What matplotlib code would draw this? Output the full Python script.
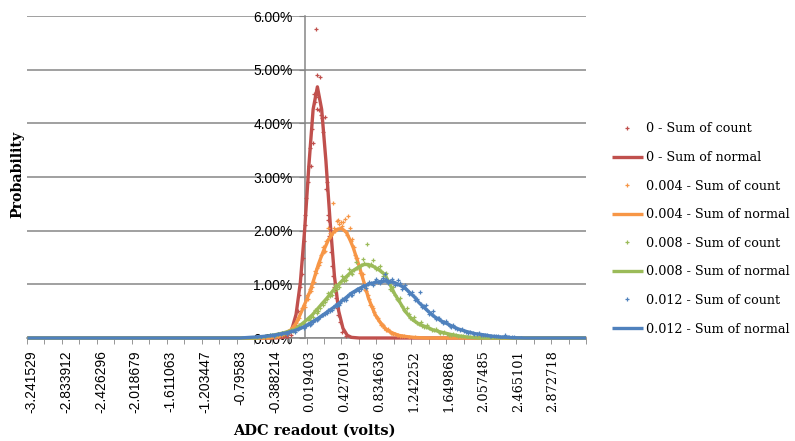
import matplotlib
matplotlib.use("Agg")
import matplotlib.pyplot as plt
from matplotlib.ticker import FixedLocator, FuncFormatter
import numpy as np

plt.rcParams['font.family'] = ['Liberation Sans', 'DejaVu Sans']

# ---------------- data ----------------
x_tick_values = [-3.241529, -2.833912, -2.426296, -2.018679, -1.611063, -1.203447,
                 -0.79583, -0.388214, 0.019403, 0.427019, 0.834636, 1.242252,
                 1.649868, 2.057485, 2.465101, 2.872718]
y_tick_values = [0, 1, 2, 3, 4, 5, 6]
series_names = ["0", "0.004", "0.008", "0.012"]
colors = ["#C0504D", "#F79646", "#9BBB59", "#4F81BD"]

# "Sum of normal" lines (percent)
red_line_x = [-3.29, -0.40, -0.29, -0.24, -0.19, -0.14, -0.09, -0.04, 0.01, 0.06, 0.11,
              0.16, 0.21, 0.26, 0.31, 0.36, 0.41, 0.46, 0.51, 0.60, 3.26]
red_line_y = [0, 0, 0.011, 0.046, 0.16, 0.44, 1.03, 2.00, 3.21, 4.26, 4.68,
              4.26, 3.30, 2.15, 1.15, 0.50, 0.18, 0.05, 0.012, 0, 0]

orange_line_x = [-3.29, -0.45, -0.35, -0.28, -0.191, -0.13, -0.074, -0.02, 0.024, 0.07, 0.121,
                 0.18, 0.24, 0.30, 0.35, 0.395, 0.45, 0.50, 0.531, 0.58, 0.63, 0.67, 0.707,
                 0.75, 0.786, 0.83, 0.864, 0.92, 0.982, 1.06, 1.138, 1.25, 1.40, 3.26]
orange_line_y = [0, 0, 0.03, 0.08, 0.16, 0.30, 0.50, 0.70, 0.87, 1.10, 1.37,
                 1.62, 1.83, 1.97, 2.03, 2.04, 1.97, 1.80, 1.68, 1.44, 1.18, 0.96, 0.75,
                 0.58, 0.44, 0.33, 0.25, 0.16, 0.10, 0.05, 0.03, 0.01, 0, 0]

green_line_x = [-3.29, -0.60, -0.45, -0.30, -0.152, -0.035, 0.05, 0.121, 0.22, 0.317, 0.42,
                0.513, 0.60, 0.66, 0.707, 0.77, 0.84, 0.903, 0.96, 1.02, 1.079, 1.138,
                1.19, 1.235, 1.30, 1.38, 1.469, 1.56, 1.665, 1.76, 1.86, 2.00, 3.26]
green_line_y = [0, 0, 0.04, 0.09, 0.16, 0.31, 0.43, 0.56, 0.74, 0.93, 1.10,
                1.24, 1.33, 1.37, 1.37, 1.33, 1.26, 1.18, 1.00, 0.81, 0.66, 0.50,
                0.40, 0.33, 0.26, 0.21, 0.15, 0.11, 0.07, 0.04, 0.02, 0, 0]

blue_line_x = [-3.29, -0.80, -0.60, -0.45, -0.30, -0.191, -0.10, -0.035, 0.04, 0.121, 0.22,
               0.317, 0.42, 0.513, 0.61, 0.707, 0.80, 0.903, 0.96, 1.02, 1.08, 1.138,
               1.19, 1.25, 1.30, 1.38, 1.469, 1.56, 1.665, 1.76, 1.86, 1.96, 2.055,
               2.15, 2.251, 2.40, 2.55, 3.26]
blue_line_y = [0, 0, 0.02, 0.04, 0.08, 0.12, 0.17, 0.22, 0.29, 0.37, 0.48,
               0.59, 0.72, 0.84, 0.93, 1.00, 1.04, 1.06, 1.05, 1.03, 0.98, 0.93,
               0.85, 0.76, 0.66, 0.54, 0.41, 0.32, 0.24, 0.17, 0.12, 0.08, 0.06,
               0.035, 0.02, 0.005, 0, 0]

# "Sum of count" dots (percent)
red_dot_x = [-0.25, -0.20, -0.15, -0.12, -0.09, -0.06, -0.04, -0.02, 0.01, 0.024, 0.036,
             0.055, 0.071, 0.094, 0.100, 0.109, 0.129, 0.144, 0.153, 0.180, 0.196, 0.211,
             0.23, 0.25, 0.28, 0.31, 0.34, 0.37, 0.40, 0.44,
             -0.10, -0.07, -0.05, -0.03, 0.00, 0.045, 0.08, 0.12, 0.165, 0.22, 0.24,
             0.265, 0.295, 0.325, 0.355]
red_dot_y = [0.02, 0.06, 0.25, 0.50, 0.95, 1.50, 2.10, 2.60, 3.20, 3.54, 3.21,
             3.64, 4.54, 5.75, 4.90, 4.26, 4.24, 4.86, 4.15, 3.83, 4.12, 2.78,
             2.30, 1.90, 1.35, 0.95, 0.55, 0.30, 0.12, 0.04,
             0.80, 1.20, 1.80, 2.30, 2.90, 3.90, 4.40, 4.50, 4.10, 2.90, 2.20,
             1.60, 1.15, 0.75, 0.42]

orange_dot_x = [-0.35, -0.30, -0.26, -0.22, -0.19, -0.16, -0.13, -0.10, -0.07, -0.04, -0.01,
                0.02, 0.05, 0.08, 0.11, 0.14, 0.17, 0.20, 0.23, 0.26, 0.29, 0.31, 0.337,
                0.36, 0.39, 0.415, 0.44, 0.472, 0.493, 0.52, 0.55, 0.58, 0.61, 0.64, 0.67,
                0.70, 0.73, 0.76, 0.79, 0.82, 0.85, 0.88, 0.91, 0.94, 0.97, 1.00, 1.04,
                1.08, 1.12, 1.18, 1.25,
                -0.24, -0.14, -0.05, 0.00, 0.035, 0.065, 0.095, 0.125, 0.155, 0.185, 0.215,
                0.245, 0.275, 0.32, 0.35, 0.40, 0.43, 0.46, 0.505, 0.535, 0.565, 0.595,
                0.625, 0.655, 0.685, 0.715, 0.745, 0.775, 0.805, 0.835, 0.865, 0.895,
                0.925, 0.96, 0.99, 1.02, 1.06, 1.10]
orange_dot_y = [0.02, 0.05, 0.10, 0.12, 0.20, 0.22, 0.33, 0.38, 0.55, 0.58, 0.80,
                0.92, 0.95, 1.25, 1.30, 1.42, 1.70, 1.62, 2.05, 1.95, 2.52, 2.05, 2.18,
                2.12, 2.16, 2.17, 1.98, 2.28, 2.05, 1.85, 1.55, 1.50, 1.22, 1.20, 0.90,
                0.80, 0.62, 0.55, 0.42, 0.38, 0.25, 0.24, 0.15, 0.16, 0.10, 0.08, 0.06,
                0.04, 0.03, 0.02, 0.01,
                0.09, 0.28, 0.62, 0.72, 0.88, 1.05, 1.22, 1.36, 1.55, 1.60, 1.80,
                1.86, 1.92, 2.00, 2.20, 2.08, 2.22, 1.92, 1.80, 1.70, 1.50, 1.32,
                1.22, 1.02, 0.88, 0.72, 0.60, 0.48, 0.38, 0.32, 0.26, 0.19,
                0.15, 0.12, 0.09, 0.07, 0.05, 0.04]

green_dot_x = [-0.50, -0.45, -0.40, -0.35, -0.30, -0.25, -0.20, -0.15, -0.10, -0.05, 0.00,
               0.04, 0.08, 0.12, 0.16, 0.20, 0.24, 0.28, 0.32, 0.36, 0.40, 0.44, 0.48,
               0.52, 0.56, 0.60, 0.64, 0.688, 0.72, 0.76, 0.80, 0.84, 0.88, 0.92, 0.96,
               1.00, 1.04, 1.08, 1.12, 1.16, 1.20, 1.24, 1.28, 1.32, 1.36, 1.40, 1.45,
               1.50, 1.55, 1.60, 1.65, 1.70, 1.76, 1.82, 1.90, 1.98,
               -0.38, -0.28, -0.18, -0.08, 0.02, 0.06, 0.10, 0.14, 0.18, 0.22, 0.26,
               0.30, 0.34, 0.38, 0.42, 0.46, 0.50, 0.54, 0.58, 0.62, 0.66, 0.70, 0.74,
               0.78, 0.82, 0.86, 0.90, 0.94, 0.98, 1.02, 1.06, 1.10, 1.14, 1.18, 1.22,
               1.26, 1.30, 1.34, 1.38, 1.42, 1.48, 1.53, 1.58, 1.63, 1.68, 1.73, 1.79,
               1.86, 1.94]
green_dot_y = [0.02, 0.05, 0.04, 0.07, 0.10, 0.09, 0.15, 0.14, 0.24, 0.27, 0.36,
               0.40, 0.52, 0.50, 0.65, 0.68, 0.83, 0.80, 0.98, 0.95, 1.15, 1.08, 1.28,
               1.20, 1.42, 1.30, 1.48, 1.75, 1.35, 1.45, 1.28, 1.35, 1.15, 1.22, 0.92,
               0.95, 0.72, 0.75, 0.52, 0.55, 0.38, 0.40, 0.28, 0.30, 0.20, 0.24, 0.15,
               0.16, 0.10, 0.11, 0.06, 0.07, 0.04, 0.03, 0.02, 0.01,
               0.06, 0.08, 0.13, 0.21, 0.33, 0.40, 0.47, 0.55, 0.62, 0.72, 0.78,
               0.88, 0.92, 1.02, 1.06, 1.15, 1.22, 1.26, 1.30, 1.36, 1.40, 1.36, 1.38,
               1.32, 1.30, 1.24, 1.20, 1.05, 0.88, 0.80, 0.70, 0.60, 0.50, 0.44, 0.36,
               0.32, 0.27, 0.23, 0.21, 0.18, 0.14, 0.12, 0.10, 0.08, 0.06, 0.05, 0.03,
               0.02, 0.01]

blue_dot_x = [-0.60, -0.55, -0.50, -0.45, -0.40, -0.35, -0.30, -0.25, -0.20, -0.15, -0.10,
              -0.05, 0.00, 0.04, 0.08, 0.12, 0.16, 0.20, 0.24, 0.28, 0.32, 0.36, 0.40,
              0.44, 0.48, 0.52, 0.56, 0.60, 0.64, 0.68, 0.72, 0.76, 0.80, 0.84, 0.88,
              0.903, 0.94, 0.98, 1.02, 1.06, 1.10, 1.14, 1.18, 1.22, 1.26, 1.313, 1.34,
              1.38, 1.42, 1.46, 1.50, 1.54, 1.58, 1.62, 1.66, 1.70, 1.75, 1.80, 1.85,
              1.90, 1.95, 2.00, 2.05, 2.10, 2.15, 2.20, 2.25, 2.31, 2.36, 2.42, 2.50,
              -0.42, -0.32, -0.22, -0.12, -0.02, 0.02, 0.06, 0.10, 0.14, 0.18, 0.22,
              0.26, 0.30, 0.34, 0.38, 0.42, 0.46, 0.50, 0.54, 0.58, 0.62, 0.66, 0.70,
              0.74, 0.78, 0.82, 0.86, 0.92, 0.96, 1.00, 1.04, 1.08, 1.12, 1.16, 1.20,
              1.24, 1.28, 1.32, 1.36, 1.40, 1.44, 1.48, 1.52, 1.56, 1.60, 1.64, 1.68,
              1.72, 1.78, 1.83, 1.88, 1.93, 1.98, 2.03, 2.08, 2.13, 2.18, 2.23, 2.28,
              2.34, 2.39]
blue_dot_y = [0.01, 0.02, 0.03, 0.05, 0.04, 0.07, 0.09, 0.08, 0.13, 0.12, 0.18,
              0.19, 0.26, 0.27, 0.34, 0.35, 0.43, 0.44, 0.52, 0.53, 0.62, 0.61, 0.72,
              0.70, 0.82, 0.80, 0.90, 0.88, 0.98, 0.94, 1.05, 0.98, 1.10, 1.02, 1.12,
              1.20, 1.02, 1.10, 0.98, 1.08, 0.92, 0.98, 0.82, 0.86, 0.70, 0.85, 0.58,
              0.62, 0.45, 0.50, 0.36, 0.38, 0.28, 0.31, 0.22, 0.24, 0.16, 0.17, 0.11,
              0.12, 0.08, 0.09, 0.05, 0.06, 0.03, 0.04, 0.02, 0.06, 0.01, 0.01, 0.0,
              0.05, 0.08, 0.11, 0.16, 0.22, 0.25, 0.30, 0.33, 0.40, 0.42, 0.47,
              0.50, 0.58, 0.60, 0.66, 0.70, 0.76, 0.80, 0.86, 0.92, 0.92, 0.97, 1.00,
              1.02, 1.06, 1.04, 1.08, 1.10, 1.06, 1.04, 1.00, 1.02, 0.95, 0.90, 0.84,
              0.78, 0.72, 0.64, 0.60, 0.52, 0.46, 0.41, 0.38, 0.32, 0.29, 0.26, 0.21,
              0.19, 0.15, 0.13, 0.10, 0.09, 0.07, 0.06, 0.05, 0.04, 0.03, 0.03, 0.02,
              0.02, 0.01]

dots = [(red_dot_x, red_dot_y), (orange_dot_x, orange_dot_y),
        (green_dot_x, green_dot_y), (blue_dot_x, blue_dot_y)]
lines = [(red_line_x, red_line_y), (orange_line_x, orange_line_y),
         (green_line_x, green_line_y), (blue_line_x, blue_line_y)]

# ---------------- figure ----------------
W, H = 795, 441
fig = plt.figure(figsize=(W / 100, H / 100), dpi=100)
ax = fig.add_axes([27 / W, 1 - 338 / H, 559 / W, 322 / H])

x_left, x_right = -3.2943, 3.259
grid_col = "#868686"

handles = []
for name, c, (dx, dy), (lx, ly) in zip(series_names, colors, dots, lines):
    h1, = ax.plot(dx, dy, ls='none', marker='+', ms=3.2, mew=0.9, color=c,
                  label=f"{name} - Sum of count", zorder=3)
    h2, = ax.plot(lx, ly, lw=2.4, color=c, label=f"{name} - Sum of normal",
                  clip_on=False, solid_joinstyle='round', solid_capstyle='butt', zorder=3)
    handles += [h1, h2]

ax.set_xlim(x_left, x_right)
ax.set_ylim(0, 6)

ax.set_axisbelow(True)
ax.yaxis.grid(True, color=grid_col, lw=1.1)
ax.xaxis.grid(False)
for s in ['top', 'right']:
    ax.spines[s].set_visible(False)
ax.spines['bottom'].set_color(grid_col)
ax.spines['bottom'].set_linewidth(1.1)
ax.spines['left'].set_position(('data', -0.035))
ax.spines['left'].set_color(grid_col)
ax.spines['left'].set_linewidth(1.1)

# y ticks
ax.set_yticks(y_tick_values)
ax.yaxis.set_major_formatter(FuncFormatter(lambda v, p: f"{v:.2f}%"))
ax.tick_params(axis='y', length=4, color=grid_col, pad=5, labelsize=10)

# x ticks: labels at values, tick marks as minor
ax.set_xticks(x_tick_values)
ax.set_xticklabels([str(v) for v in x_tick_values], rotation=90, va='top', ha='center')
for v, lab in zip(x_tick_values, ax.get_xticklabels()):
    if v < 0:
        lab.set_fontfamily(['Liberation Sans'])
        lab.set_fontsize(10)
    else:
        lab.set_fontfamily(['DejaVu Serif'])
        lab.set_fontsize(9.3)
ax.tick_params(axis='x', which='major', length=0, pad=9)
ax.xaxis.set_minor_locator(FixedLocator(np.linspace(x_left, x_right, 33)))
ax.tick_params(axis='x', which='minor', length=4.5, color=grid_col, direction='out')

# axis titles
fig.text(17 / W, 1 - 174 / H, "Probability", rotation=90, ha='center', va='center',
         family='DejaVu Serif', weight='bold', fontsize=10.2)
fig.text(314 / W, 1 - 435 / H, "ADC readout (volts)", ha='center', va='baseline',
         family='DejaVu Serif', weight='bold', fontsize=10.5)

# legend
fig.legend(handles=handles, loc='center left', bbox_to_anchor=(612 / W, 1 - 229 / H),
           frameon=False, prop=dict(family='DejaVu Serif', size=9.2),
           handlelength=2.4, handletextpad=0.3, labelspacing=1.22,
           borderpad=0, borderaxespad=0)

fig.savefig("out.png", dpi=100)
